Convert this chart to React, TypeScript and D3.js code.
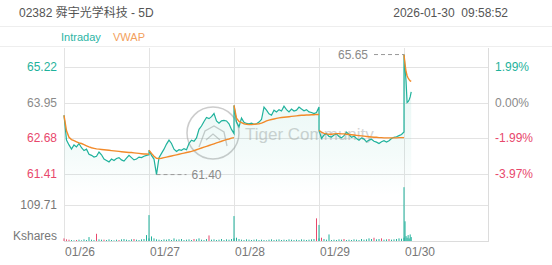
import React from "react";
import * as d3 from "d3";

// ---- data ----
const title = "02382 舜宇光学科技 - 5D";
const timestamp = "2026-01-30  09:58:52";
const dayLabels = ["01/26", "01/27", "01/28", "01/29", "01/30"];
const priceTicks = [65.22, 63.95, 62.68, 61.41];
const pctTicks = ["1.99%", "0.00%", "-1.99%", "-3.97%"];
const prevClose = 63.95;
const volTick = 109.71;
const highLabel = 65.65;
const lowLabel = 61.4;
const minutesPerDay = 330;
const day5Step = 4; // minutes between samples on the last (partial) day

const day1Price = [63.5, 62.62, 62.45, 62.3, 62.45, 62.38, 62.5, 62.35, 62.25, 62.3, 62.12, 62.08, 62.02, 62.05, 62.2, 62.1, 61.95, 61.9, 61.85, 61.95, 61.9, 61.97, 62.0, 61.92, 61.88, 61.98, 62.08, 62.0, 61.92, 61.95, 62.02, 62.0, 62.05, 62.08, 62.1];
const day2Price = [62.26, 62.08, 61.95, 61.4, 62.0, 62.15, 62.3, 62.48, 62.62, 62.5, 62.3, 62.22, 62.28, 62.26, 62.32, 62.28, 62.5, 62.62, 62.58, 62.7, 63.0, 63.12, 63.28, 63.42, 63.38, 63.45, 63.56, 63.3, 63.22, 63.3, 63.32, 63.3, 63.2, 63.0, 62.85];
const day3Price = [63.85, 63.26, 63.09, 63.4, 63.25, 63.21, 63.2, 63.22, 63.18, 63.2, 63.26, 63.35, 63.79, 63.68, 63.55, 63.5, 63.68, 63.62, 63.7, 63.65, 63.82, 63.7, 63.62, 63.72, 63.65, 63.68, 63.79, 63.72, 63.66, 63.7, 63.62, 63.6, 63.56, 63.6, 63.79];
const day4Price = [62.97, 62.68, 62.8, 62.85, 62.75, 62.73, 62.8, 62.84, 62.75, 62.7, 62.78, 62.9, 62.82, 62.72, 62.76, 62.68, 62.62, 62.7, 62.66, 62.56, 62.62, 62.65, 62.58, 62.55, 62.5, 62.56, 62.6, 62.55, 62.6, 62.68, 62.72, 62.74, 62.78, 62.82, 62.91];
const day5Price = [65.65, 65.2, 64.7, 63.95, 63.98, 64.05, 64.15, 64.33];

const day1Vwap = [63.5, 62.95, 62.72, 62.64, 62.6, 62.56, 62.52, 62.5, 62.46, 62.42, 62.38, 62.35, 62.33, 62.31, 62.3, 62.29, 62.28, 62.27, 62.26, 62.25, 62.24, 62.23, 62.22, 62.21, 62.2, 62.19, 62.18, 62.18, 62.17, 62.16, 62.15, 62.14, 62.13, 62.13, 62.12];
const day2Vwap = [62.26, 62.15, 62.05, 61.98, 61.97, 61.98, 62.0, 62.02, 62.04, 62.06, 62.08, 62.1, 62.12, 62.14, 62.16, 62.18, 62.2, 62.22, 62.25, 62.28, 62.31, 62.34, 62.37, 62.4, 62.43, 62.46, 62.49, 62.52, 62.55, 62.58, 62.61, 62.64, 62.66, 62.69, 62.71];
const day3Vwap = [63.85, 63.4, 63.28, 63.24, 63.2, 63.18, 63.17, 63.17, 63.18, 63.19, 63.2, 63.22, 63.26, 63.3, 63.33, 63.35, 63.37, 63.39, 63.41, 63.42, 63.43, 63.44, 63.45, 63.46, 63.47, 63.48, 63.49, 63.5, 63.5, 63.51, 63.51, 63.52, 63.52, 63.53, 63.53];
const day4Vwap = [62.97, 62.9, 62.86, 62.84, 62.83, 62.83, 62.84, 62.85, 62.85, 62.84, 62.84, 62.83, 62.82, 62.81, 62.8, 62.79, 62.78, 62.77, 62.76, 62.75, 62.74, 62.73, 62.72, 62.72, 62.71, 62.71, 62.7, 62.7, 62.7, 62.7, 62.7, 62.7, 62.71, 62.71, 62.71];
const day5Vwap = [65.65, 65.3, 65.05, 64.9, 64.82, 64.76, 64.72, 64.7];

// volume in Kshares; negative = down-tick volume (pink), positive = up-tick (teal)
const day1Vol = [-8, -5, -4, 3, 2, -3, 4, 2, 5, 3, 12, 4, 3, -22, 5, 4, -4, 3, 5, 3, 2, 4, -3, 5, 6, 4, 3, 5, -6, 4, 3, 5, 6, 18, 8];
const day2Vol = [79, 14, 8, 5, 4, 3, 5, 4, 6, 3, 8, 4, 5, 6, 3, 4, 5, 3, -6, 5, 8, 4, 3, 6, -17, 4, 5, 3, 4, 6, 3, 5, 4, 6, 8];
const day3Vol = [76, 10, 6, 4, 3, 5, 4, 3, 4, 5, 3, 4, 3, 2, 4, 5, 3, 4, 5, 3, 4, 3, 5, 4, 3, 4, 3, 5, 4, 3, 4, 5, 6, -69, 8];
const day4Vol = [49, -10, 6, 4, 20, 3, 4, 3, 5, 4, -6, 3, 4, 3, 5, 4, 3, 6, 4, 5, 8, 6, -10, 5, 6, -8, 4, 5, -6, 4, 5, 6, 8, 7, 10];
const day5Vol = [164, 60, 15, 10, 18, 8, 20, 12];

const dayPrices = [day1Price, day2Price, day3Price, day4Price, day5Price];
const dayVwaps = [day1Vwap, day2Vwap, day3Vwap, day4Vwap, day5Vwap];
const dayVols = [day1Vol, day2Vol, day3Vol, day4Vol, day5Vol];

// ---- layout ----
const W = 552;
const H = 265;
const L = 64;
const R = 489;
const priceTop = 48;
const priceBottom = 196;

const volBottom = 241;

const TEAL = "#1fb29c";
const ORANGE = "#f28a2a";
const RED = "#e8486c";
const GRAY = "#8a8a8a";
const GRID = "#e3e3e3";
const FONT = "'Liberation Sans', Arial, 'Noto Sans CJK SC', sans-serif";

type Pt = { t: number; v: number };

function minuteOf(day: number, i: number, n: number) {
  if (day === 4) return day * minutesPerDay + i * day5Step;
  return day * minutesPerDay + (i * minutesPerDay) / (n - 1);
}

export default function App() {
  const x = d3.scaleLinear().domain([0, 5 * minutesPerDay]).range([L, R]);
  const y = d3.scaleLinear().domain([61.41, 65.22]).range([174.3, 66.7]);
  const yv = d3.scaleLinear().domain([0, volTick]).range([volBottom, 205]);

  const pricePts: Pt[] = [];
  dayPrices.forEach((arr, d) => arr.forEach((v, i) => pricePts.push({ t: minuteOf(d, i, arr.length), v })));
  const vwapDays: Pt[][] = dayVwaps.map((arr, d) => arr.map((v, i) => ({ t: minuteOf(d, i, arr.length), v })));
  const volPts: Pt[] = [];
  dayVols.forEach((arr, d) => arr.forEach((v, i) => volPts.push({ t: minuteOf(d, i, arr.length), v })));

  const line = d3.line<Pt>().x((p) => x(p.t)).y((p) => y(p.v));
  const area = d3.area<Pt>().x((p) => x(p.t)).y0(priceBottom).y1((p) => y(p.v));

  const tickColor = (v: number) => (v > prevClose ? TEAL : v < prevClose ? RED : GRAY);

  const hiPt = pricePts.reduce((a, b) => (b.v > a.v ? b : a));
  const loPt = pricePts.reduce((a, b) => (b.v < a.v ? b : a));

  const dayStarts = d3.range(5).map((d) => d * minutesPerDay);

  return (
    <svg width={W} height={H} style={{ position: "absolute", left: 0, top: 0, background: "#fff" }} fontFamily={FONT}>
      <defs>
        <linearGradient id="fillg" x1="0" y1="0" x2="0" y2="1">
          <stop offset="0%" stopColor="#1fb29c" stopOpacity={0.12} />
          <stop offset="70%" stopColor="#1fb29c" stopOpacity={0.05} />
          <stop offset="100%" stopColor="#1fb29c" stopOpacity={0} />
        </linearGradient>
      </defs>
      <rect x={0} y={0} width={W} height={H} fill="#fff" />

      {/* header */}
      <text x={19} y={17} fontSize={12} fill="#555">{title}</text>
      <text x={508} y={17} fontSize={12} fill="#555" textAnchor="end" style={{ whiteSpace: "pre" }}>{timestamp}</text>
      <line x1={0} x2={W} y1={26.5} y2={26.5} stroke="#eeeeee" />
      <line x1={0} x2={W} y1={46.5} y2={46.5} stroke="#eeeeee" />
      <text x={61} y={41} fontSize={11} fill="#2bb5a5">Intraday</text>
      <text x={113} y={41} fontSize={11} fill="#f3a05c">VWAP</text>

      {/* grid */}
      {priceTicks.map((p) => (
        <line key={p} x1={L} x2={R} y1={Math.round(y(p)) + 0.5} y2={Math.round(y(p)) + 0.5} stroke={GRID} />
      ))}
      <line x1={L} x2={R} y1={Math.round(yv(volTick)) + 0.5} y2={Math.round(yv(volTick)) + 0.5} stroke={GRID} />
      {dayStarts.map((t) => (
        <line key={t} x1={Math.round(x(t)) + 0.5} x2={Math.round(x(t)) + 0.5} y1={priceTop} y2={volBottom} stroke={GRID} />
      ))}
      <line x1={R - 0.5} x2={R - 0.5} y1={priceTop} y2={volBottom} stroke="#dcdcdc" />
      <line x1={L} x2={R} y1={volBottom + 0.5} y2={volBottom + 0.5} stroke="#dcdcdc" />

      {/* watermark */}
      <g opacity={0.5}>
        <circle cx={213} cy={133} r={26} fill="none" stroke="#9a9a9a" strokeWidth={1.5} />
        <path d="M199,147 L205,131 L214,126 L224,132 L227,146" fill="none" stroke="#9a9a9a" strokeWidth={1.3} />
        <path d="M206,140 L213,134 L220,140" fill="none" stroke="#9a9a9a" strokeWidth={1.2} />
        <text x={245} y={140} fontSize={17} fill="#a8a8a8">Tiger Community</text>
      </g>

      {/* price */}
      <path d={area(pricePts) || ""} fill="url(#fillg)" />
      <path d={line(pricePts) || ""} fill="none" stroke={TEAL} strokeWidth={1.2} />
      {vwapDays.map((pts, i) => (
        <path key={i} d={line(pts) || ""} fill="none" stroke={ORANGE} strokeWidth={1.4} />
      ))}

      {/* high / low markers */}
      <line x1={x(hiPt.t) - 30} x2={x(hiPt.t)} y1={y(hiPt.v)} y2={y(hiPt.v)} stroke="#999" strokeDasharray="4,3" />
      <text x={x(hiPt.t) - 36} y={y(hiPt.v) + 4} fontSize={12} fill={GRAY} textAnchor="end">{highLabel.toFixed(2)}</text>
      <line x1={x(loPt.t)} x2={x(loPt.t) + 30} y1={y(loPt.v)} y2={y(loPt.v)} stroke="#999" strokeDasharray="4,3" />
      <text x={x(loPt.t) + 35} y={y(loPt.v) + 4} fontSize={12} fill={GRAY}>{lowLabel.toFixed(2)}</text>

      {/* volume */}
      {volPts.map((p, i) => (
        <rect key={i} x={x(p.t) - 0.5} width={1} y={yv(Math.abs(p.v))} height={volBottom - yv(Math.abs(p.v))} fill={p.v >= 0 ? TEAL : RED} />
      ))}

      {/* axis labels */}
      {priceTicks.map((p) => (
        <text key={p} x={57} y={y(p) + 4} fontSize={12} fill={tickColor(p)} textAnchor="end">{p.toFixed(2)}</text>
      ))}
      {pctTicks.map((s, i) => (
        <text key={s} x={495} y={y(priceTicks[i]) + 4} fontSize={12} fill={tickColor(priceTicks[i])}>{s}</text>
      ))}
      <text x={57} y={yv(volTick) + 4} fontSize={12} fill="#777" textAnchor="end">{volTick.toFixed(2)}</text>
      <text x={57} y={240} fontSize={12} fill="#777" textAnchor="end">Kshares</text>
      {dayLabels.map((s, i) => (
        <text key={s} x={x(dayStarts[i]) + 1} y={256} fontSize={12} fill="#777">{s}</text>
      ))}
    </svg>
  );
}
